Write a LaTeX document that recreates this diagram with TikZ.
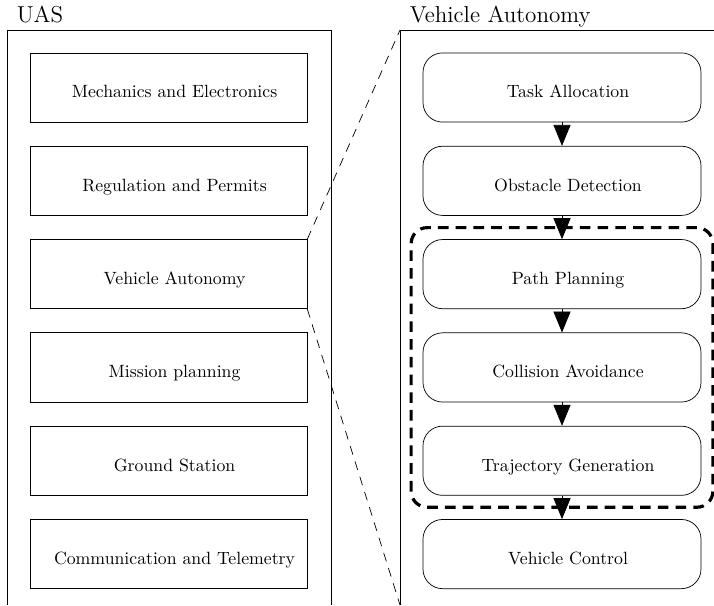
\documentclass[tikz,border=0pt]{standalone}
\usetikzlibrary{positioning,fit,arrows.meta}

\begin{document}
\begin{tikzpicture}[x=0.5637pt,y=-0.5637pt]
		% Define box, arrow and frame styles
		\tikzset{sqbox/.style={draw, minimum width=156.1pt, minimum height=39pt, text height=11.8pt, text depth=0pt, execute at begin node=\hspace*{6.8pt}}}
		\tikzset{rndbox/.style={sqbox, rounded corners=11pt, minimum width=156.7pt}}
		\tikzset{flow/.style={-{Triangle[length=11.8pt,width=9.6pt]}}}
		\tikzset{group/.style={draw, line width=1.8pt, dash pattern=on 6pt off 4pt, rounded corners=9pt, inner sep=6.5pt}}
		\tikzset{zoomline/.style={dash pattern=on 5pt off 4pt}}
		\tikzset{title/.style={anchor=base west, xshift=2pt, yshift=4pt, font=\fontsize{13}{15}\selectfont}}
		\useasboundingbox (0,0) rectangle (714,605);
		
		% Draw the two open frames
		\coordinate (lbl) at (7,605);
		\coordinate (ltl) at (7,30);
		\coordinate (ltr) at (331,30);
		\coordinate (lbr) at (331,605);
		\coordinate (rbl) at (400,605);
		\coordinate (rtl) at (400,30);
		\coordinate (rtr) at (714,30);
		\draw (lbl) -- (ltl) -- (ltr) -- (lbr);
		\draw (rbl) -- (rtl) -- (rtr);
		\node[title] (uas) at (ltl) {UAS};
		\node[title] (vat) at (rtl) {Vehicle Autonomy};
		
		% Left column
		\node[sqbox] (me) at (168.5,87.5) {Mechanics and Electronics};
		\node[sqbox, below=13.2pt of me] (rp) {Regulation and Permits};
		\node[sqbox, below=13.2pt of rp] (va) {Vehicle Autonomy};
		\node[sqbox, below=13.2pt of va] (mp) {Mission planning};
		\node[sqbox, below=13.2pt of mp] (gs) {Ground Station};
		\node[sqbox, below=13.2pt of gs] (ct) {Communication and Telemetry};
		
		% Right column
		\node[rndbox] (ta) at (562,87.5) {Task Allocation};
		\node[rndbox, below=13.2pt of ta] (od) {Obstacle Detection};
		\node[rndbox, below=13.2pt of od] (pp) {Path Planning};
		\node[rndbox, below=13.2pt of pp] (ca) {Collision Avoidance};
		\node[rndbox, below=13.2pt of ca] (tg) {Trajectory Generation};
		\node[rndbox, below=13.2pt of tg] (vc) {Vehicle Control};
		
		% Dashed group round the planning boxes
		\node[group, fit=(pp)(tg)] (plan) {};
		
		% Arrows between the steps
		\draw[flow] (ta.south) -- (od.north);
		\draw[flow] (od.south) -- (pp.north);
		\draw[flow] (pp.south) -- (ca.north);
		\draw[flow] (ca.south) -- (tg.north);
		\draw[flow] (tg.south) -- (vc.north);
		
		% Zoom lines
		\draw[zoomline] (va.north east) -- (rtl);
		\draw[zoomline] (va.south east) -- (rbl);
	\end{tikzpicture}
\end{document}
